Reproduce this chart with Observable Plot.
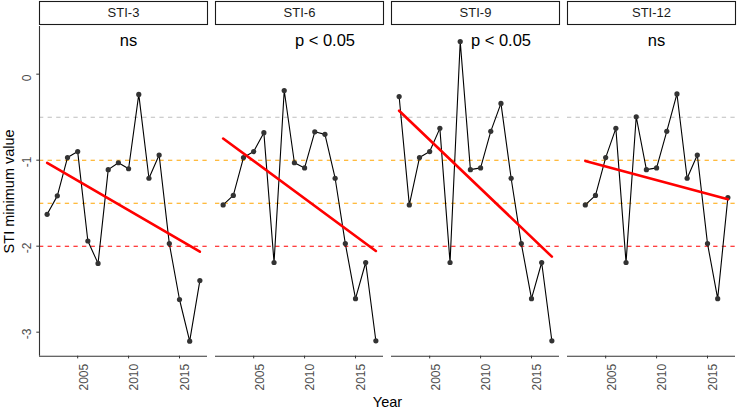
<!DOCTYPE html>
<html>
<head>
<meta charset="utf-8">
<script src="https://cdn.jsdelivr.net/npm/d3@7"></script>
<script src="https://cdn.jsdelivr.net/npm/@observablehq/plot@0.6"></script>
<style>
  html, body { margin: 0; padding: 0; background: #ffffff; }
  #chart svg { display: block; }
</style>
</head>
<body>
<div id="chart"></div>
<script>
// ---- data ----
const panels = ["STI-3", "STI-6", "STI-9", "STI-12"];

const years3 = [2002, 2003, 2004, 2005, 2006, 2007, 2008, 2009, 2010, 2011, 2012, 2013, 2014, 2015, 2016, 2017];
const sti3   = [-1.63, -1.415, -0.97, -0.90, -1.94, -2.20, -1.11, -1.03, -1.10, -0.235, -1.21, -0.94, -1.97, -2.62, -3.105, -2.40];

const years6 = [2002, 2003, 2004, 2005, 2006, 2007, 2008, 2009, 2010, 2011, 2012, 2013, 2014, 2015, 2016, 2017];
const sti6   = [-1.52, -1.41, -0.97, -0.90, -0.68, -2.19, -0.19, -1.03, -1.09, -0.67, -0.70, -1.21, -1.97, -2.61, -2.19, -3.10];

const years9 = [2002, 2003, 2004, 2005, 2006, 2007, 2008, 2009, 2010, 2011, 2012, 2013, 2014, 2015, 2016, 2017];
const sti9   = [-0.26, -1.52, -0.97, -0.90, -0.63, -2.19, 0.38, -1.11, -1.09, -0.665, -0.34, -1.21, -1.97, -2.61, -2.19, -3.10];

const years12 = [2003, 2004, 2005, 2006, 2007, 2008, 2009, 2010, 2011, 2012, 2013, 2014, 2015, 2016, 2017];
const sti12   = [-1.52, -1.41, -0.97, -0.63, -2.19, -0.495, -1.11, -1.09, -0.665, -0.23, -1.21, -0.94, -1.97, -2.61, -1.435];

const pLabels     = ["ns", "p < 0.05", "p < 0.05", "ns"];
const pLabelYears = [2010, 2012, 2012, 2010];
const pLabelValue = [0.39, 0.39, 0.39, 0.39];

const thresholds      = [-0.5, -1, -1.5, -2];
const thresholdColors = ["#bebebe", "#ffa500", "#ffa500", "#ff0000"];

const yTicks = [-3, -2, -1, 0];
const xTicks = [2005, 2010, 2015];

const xTitle = "Year";
const yTitle = "STI minimum value";

// ---- tables built from the arrays ----
const seriesYears  = [years3, years6, years9, years12];
const seriesValues = [sti3, sti6, sti9, sti12];
const rows = panels.flatMap((p, i) =>
  seriesYears[i].map((yr, j) => ({panel: p, year: yr, value: seriesValues[i][j]})));
const annot = panels.map((p, i) => ({panel: p, year: pLabelYears[i], value: pLabelValue[i], text: pLabels[i]}));
const hlines = thresholds.map((v, i) => ({value: v, color: thresholdColors[i]}));

// ggplot-like 5% expansion
const [xmin, xmax] = d3.extent(rows, d => d.year);
const [ymin, ymax] = d3.extent(rows, d => d.value);
const xDom = [xmin - 0.05 * (xmax - xmin), xmax + 0.05 * (xmax - xmin)];
const yDom = [ymin - 0.05 * (ymax - ymin), ymax + 0.05 * (ymax - ymin)];

// ---- layout ----
const W = 737, H = 409;
const mT = 26, mB = 53.3, mL = 37.7, mR = 1;
const gap = 8;
const step = (W - mL - mR + gap) / 4;
const stripTop = 1, stripBottom = 24;
const font = "'Liberation Sans', Arial, Helvetica, sans-serif";

const chart = Plot.plot({
  width: W,
  height: H,
  marginTop: mT,
  marginBottom: mB,
  marginLeft: mL,
  marginRight: mR,
  style: {fontFamily: font, background: "#ffffff", overflow: "visible"},
  fx: {domain: panels, axis: null, label: null, paddingInner: gap / step, paddingOuter: 0},
  x: {domain: xDom},
  y: {domain: yDom},
  color: {type: "identity"},
  marks: [
    // strip boxes
    Plot.frame({fill: "#ffffff", stroke: "#1a1a1a", strokeWidth: 1.1,
      insetTop: -(mT - stripTop), insetBottom: (H - mB) - stripBottom}),
    Plot.text(panels, {fx: d => d, text: d => d, frameAnchor: "top", textAnchor: "middle", lineAnchor: "middle",
      dy: -13.2, fontSize: 13, fill: "#1a1a1a"}),
    // threshold lines
    Plot.ruleY(hlines, {y: "value", stroke: "color", strokeWidth: 1.07, strokeDasharray: "4.3,4.3"}),
    // axis lines
    Plot.ruleY([yDom[0]], {stroke: "#333333", strokeWidth: 1.1}),
    Plot.ruleX([{panel: panels[0], x: xDom[0]}], {x: "x", fx: "panel", stroke: "#333333", strokeWidth: 1.1}),
    // ticks
    Plot.axisX({ticks: xTicks, tickSize: 2.7, fill: "none", stroke: "#333333", label: null}),
    Plot.axisY({ticks: yTicks, tickSize: 2.7, fill: "none", stroke: "#333333", label: null}),
    // tick labels
    Plot.text(xTicks, {x: d => d, text: d => String(d), frameAnchor: "bottom", rotate: -90,
      textAnchor: "end", lineAnchor: "middle", dx: 6, dy: 7.6, fontSize: 12, fill: "#4d4d4d"}),
    Plot.text(yTicks, {fx: () => panels[0], y: d => d, text: d => String(d), frameAnchor: "left", rotate: -90,
      textAnchor: "start", lineAnchor: "middle", dx: -12.5, dy: 7, fontSize: 12, fill: "#4d4d4d"}),
    // series
    Plot.line(rows, {x: "year", y: "value", fx: "panel", stroke: "#000000", strokeWidth: 1.1}),
    Plot.dot(rows, {x: "year", y: "value", fx: "panel", r: 2.6, fill: "#333333", stroke: "none"}),
    Plot.linearRegressionY(rows, {x: "year", y: "value", fx: "panel", stroke: "#ff0000", strokeWidth: 2.6, ci: 0}),
    // significance labels
    Plot.text(annot, {x: "year", y: "value", fx: "panel", text: "text", fontSize: 16.5, fill: "#000000"}),
    // axis titles
    Plot.text([panels[0]], {fx: d => d, text: () => yTitle, frameAnchor: "left", rotate: -90,
      textAnchor: "middle", lineAnchor: "middle", dx: -29.7, fontSize: 14.5, fill: "#000000"}),
    Plot.text([panels[1]], {fx: d => d, text: () => xTitle, frameAnchor: "bottom-right",
      textAnchor: "middle", lineAnchor: "middle", dx: gap / 2, dy: 46.5, fontSize: 14.5, fill: "#000000"})
  ]
});

document.getElementById("chart").appendChild(chart);
</script>
</body>
</html>
